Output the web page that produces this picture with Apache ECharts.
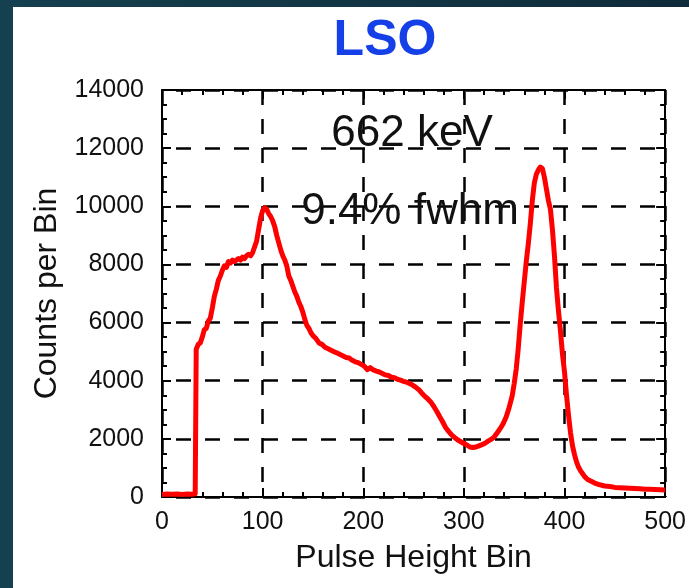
<!DOCTYPE html>
<html>
<head>
<meta charset="utf-8">
<script src="https://cdn.jsdelivr.net/npm/echarts@6/dist/echarts.min.js"></script>
<style>
html,body{margin:0;padding:0;background:#fff;}
#chart{width:689px;height:588px;}
</style>
</head>
<body>
<div id="chart"></div>
<script>
// ---- data ----
var chartTitle = 'LSO';
var xAxisName = 'Pulse Height Bin';
var yAxisName = 'Counts per Bin';
var annotations = ['662 keV', '9.4% fwhm'];
var xTicks = [0, 100, 200, 300, 400, 500];
var yTicks = [0, 2000, 4000, 6000, 8000, 10000, 12000, 14000];

var bins = [0,5,10,15,20,25,30,33,34,36,38,40,42,44,46,48,50,52,54,56,58,60,62,64,66,68,70,72,74,76,78,80,82,84,86,88,90,92,94,96,98,100,102,104,106,108,110,112,114,116,118,120,122,124,126,128,130,132,134,136,138,140,142,144,146,148,150,153,156,159,162,165,168,171,174,177,180,183,186,189,192,195,198,201,204,207,210,213,216,219,222,225,228,231,234,237,240,243,246,249,252,255,258,261,264,267,270,273,276,279,282,285,288,291,294,297,300,303,306,309,312,315,318,321,324,327,330,333,336,339,342,345,348,350,352,354,356,358,360,362,364,366,368,370,372,374,376,378,380,382,384,386,388,390,392,394,396,398,400,402,404,406,408,410,412,414,416,418,420,423,426,430,435,440,445,450,455,460,465,470,475,480,485,490,495,500];
var counts = [90,100,95,100,90,100,95,110,5080,5250,5300,5500,5750,5800,6050,6150,6500,6900,7150,7450,7600,7800,7950,7900,8100,8050,8150,8100,8150,8200,8150,8250,8200,8300,8350,8300,8400,8600,8800,9200,9600,9850,9950,9900,9750,9650,9500,9300,9000,8750,8500,8300,8150,7950,7600,7450,7250,7050,6900,6700,6550,6350,6100,5900,5800,5650,5550,5450,5300,5250,5150,5100,5050,5000,4950,4900,4850,4800,4780,4700,4650,4620,4560,4500,4380,4450,4370,4330,4300,4250,4200,4180,4120,4100,4050,4020,3980,3950,3900,3850,3780,3700,3580,3470,3380,3270,3120,2950,2760,2580,2380,2250,2130,2040,1960,1900,1840,1790,1720,1700,1720,1760,1800,1850,1920,1980,2060,2200,2350,2520,2750,3080,3480,3900,4400,5100,5950,6700,7400,8100,8700,9400,10200,10800,11100,11250,11350,11300,11000,10600,10200,9900,9200,8300,7200,6400,5700,4900,4300,3500,2800,2200,1750,1450,1200,1020,900,800,700,600,550,480,420,380,360,330,320,310,300,290,280,270,265,260,250,240];

var FONT = '"Liberation Sans", Arial, Helvetica, sans-serif';
var seriesData = bins.map(function (b, i) { return [b, counts[i]]; });

var chart = echarts.init(document.getElementById('chart'), null, {renderer: 'canvas'});

function frameAxis(extra) {
  var base = {
    type: 'value',
    axisLine: {show: true, onZero: false, lineStyle: {color: '#000', width: 2}},
    axisTick: {show: true, inside: true, length: 9, lineStyle: {color: '#000', width: 2}},
    minorTick: {show: true, length: 5, lineStyle: {color: '#000', width: 2}},
    splitLine: {show: false},
    axisLabel: {show: false}
  };
  for (var k in extra) base[k] = extra[k];
  return base;
}

var option = {
  backgroundColor: '#ffffff',
  animation: false,
  grid: {left: 162, top: 90, width: 505, height: 407, containLabel: false},
  xAxis: [
    frameAxis({
      position: 'bottom', min: xTicks[0], max: xTicks[xTicks.length - 1], interval: 100,
      minorTick: {show: true, splitNumber: 5, length: 5, lineStyle: {color: '#000', width: 2}},
      axisLabel: {show: true, color: '#111', fontSize: 25, fontFamily: FONT, margin: 13,
        formatter: function (v) { return xTicks.indexOf(v) >= 0 ? String(v) : ''; }},
      splitLine: {show: true, lineStyle: {color: '#000', width: 2.5, type: [15, 14], dashOffset: 0}},
      name: xAxisName, nameLocation: 'middle', nameGap: 45,
      nameTextStyle: {color: '#111', fontSize: 32, fontFamily: FONT}
    }),
    frameAxis({
      position: 'top', min: xTicks[0], max: xTicks[xTicks.length - 1], interval: 100,
      minorTick: {show: true, splitNumber: 5, length: 5, lineStyle: {color: '#000', width: 2}}
    })
  ],
  yAxis: [
    frameAxis({
      position: 'left', min: yTicks[0], max: yTicks[yTicks.length - 1], interval: 2000,
      minorTick: {show: true, splitNumber: 4, length: 5, lineStyle: {color: '#000', width: 2}},
      axisLabel: {show: true, color: '#111', fontSize: 25, fontFamily: FONT, margin: 18,
        formatter: function (v) { return yTicks.indexOf(v) >= 0 ? String(v) : ''; }},
      splitLine: {show: true, lineStyle: {color: '#000', width: 2.5, type: [15, 14], dashOffset: 15}},
      name: yAxisName, nameLocation: 'middle', nameGap: 98, nameRotate: 90,
      nameTextStyle: {color: '#111', fontSize: 32, fontFamily: FONT}
    }),
    frameAxis({
      position: 'right', min: yTicks[0], max: yTicks[yTicks.length - 1], interval: 2000,
      minorTick: {show: true, splitNumber: 4, length: 5, lineStyle: {color: '#000', width: 2}}
    })
  ],
  series: [{
    type: 'line',
    xAxisIndex: 0, yAxisIndex: 0,
    data: seriesData,
    showSymbol: false,
    symbol: 'none',
    lineStyle: {color: '#ff0000', width: 5, join: 'round'},
    z: 5
  }],
  graphic: [
    {type: 'rect', left: 0, top: 0, z: 100, shape: {width: 689, height: 7},
     style: {fill: new echarts.graphic.LinearGradient(0, 0, 1, 0, [{offset: 0, color: '#15404f'}, {offset: 1, color: '#102b3b'}])}},
    {type: 'rect', left: 0, top: 0, z: 100, shape: {width: 13, height: 588}, style: {fill: '#15404f'}},
    {type: 'text', z: 50, style: {text: chartTitle, x: 385, y: 41, textAlign: 'center', textVerticalAlign: 'middle',
      fill: '#1540e8', fontSize: 50, fontWeight: 'bold', fontFamily: FONT}},
    {type: 'text', z: 50, style: {text: annotations[0], x: 412, y: 134, textAlign: 'center', textVerticalAlign: 'middle',
      fill: '#111', fontSize: 44, fontFamily: FONT}},
    {type: 'text', z: 50, style: {text: annotations[1], x: 410, y: 212, textAlign: 'center', textVerticalAlign: 'middle',
      fill: '#111', fontSize: 44, fontFamily: FONT}}
  ]
};
chart.setOption(option);
</script>
</body>
</html>
